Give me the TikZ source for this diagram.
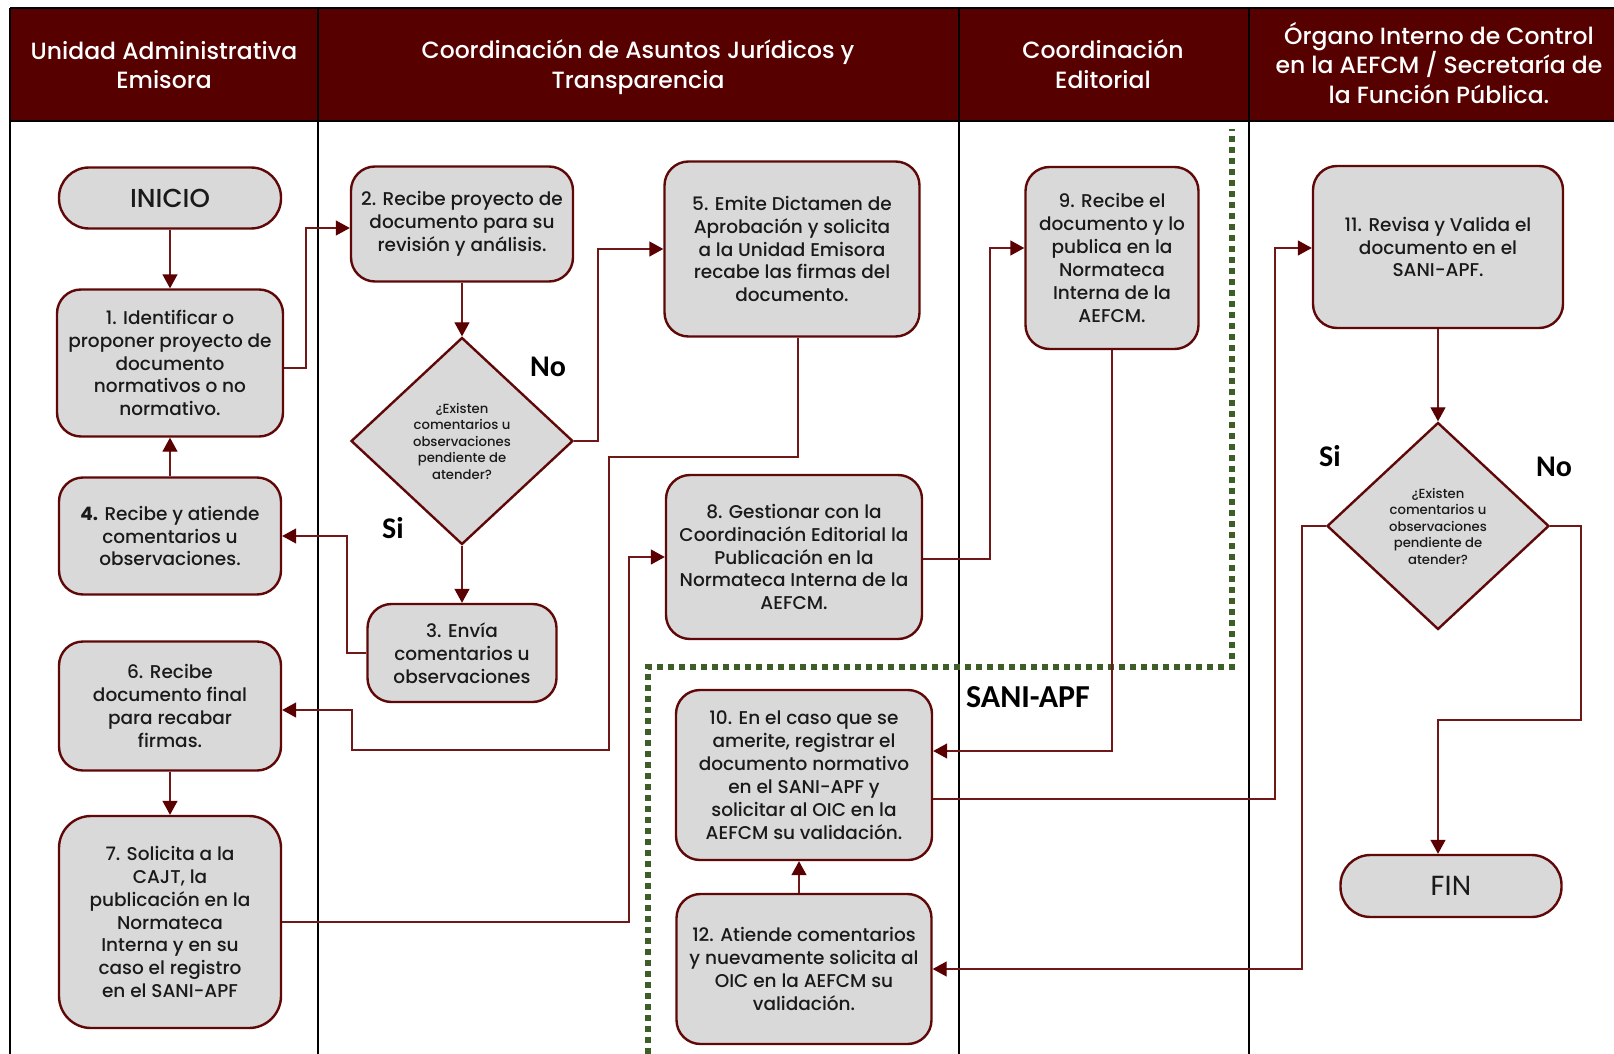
\documentclass[tikz,border=0pt]{standalone}
\usepackage{fontspec}
\IfFontExistsTF{Poppins Medium}
    {\setmainfont{Poppins Medium}[BoldFont=Poppins Bold]}
    {\setmainfont{Poppins}}
\newfontfamily\lblfont{Carlito}
\usetikzlibrary{shapes.geometric,arrows.meta}
\definecolor{headred}{RGB}{86,0,0}
\definecolor{boxline}{RGB}{96,8,8}
\definecolor{linkcol}{RGB}{112,24,24}
\definecolor{tipcol}{RGB}{90,0,0}
\definecolor{boxfill}{RGB}{217,217,217}
\definecolor{txt}{RGB}{26,26,26}
\definecolor{dotgreen}{RGB}{61,94,38}
\begin{document}
\begin{tikzpicture}
    [x=1pt, y=-1pt,
     box/.style={rectangle, rounded corners=24pt, draw=boxline, fill=boxfill, line width=2.4pt, align=center, text=txt, inner sep=0pt, font=\fontsize{18.5}{22.9}\selectfont},
     term/.style={box, rounded corners=30pt},
     decision/.style={diamond, draw=boxline, fill=boxfill, line width=2.4pt, align=center, text=txt, inner sep=0pt, minimum width=222pt, minimum height=207pt, font=\fontsize{13.2}{16.5}\selectfont},
     link/.style={draw=linkcol, line width=1.4pt, -{Triangle[length=14pt,width=15pt,color=tipcol]}},
     lbl/.style={font=\lblfont\bfseries\fontsize{30}{30}\selectfont},
     head/.style={text=white, align=center, font=\fontsize{23.5}{29.8}\selectfont},
     saniline/.style={draw=dotgreen, line width=6pt, dash pattern=on 6pt off 5pt}]
    \useasboundingbox (0,0) rectangle (1614,1054);

    % lanes
    \fill[headred] (10,8) rectangle (1614,121);
    \draw[line width=2pt] (10,8) -- (1614,8);
    \draw[line width=2pt] (10,121) -- (1614,121);
    \foreach \x in {10,318,959,1249}
        \draw[line width=2pt] (\x,8) -- (\x,1054);
    \node[head] (h1) at (164,65) {Unidad Administrativa\\Emisora};
    \node[head] (h2) at (638,67) {Coordinación de Asuntos Jurídicos y\\Transparencia};
    \node[head] (h3) at (1103,64) {Coordinación\\Editorial};
    \node[head] (h4) at (1439,63) {Órgano Interno de Control\\en la AEFCM / Secretaría de\\la Función Pública.};

    \draw[saniline] (648,1054) -- (648,667) -- (1232,667) -- (1232,129);

    \node[term, minimum width=222pt, minimum height=61pt, font=\fontsize{26}{26}\selectfont] (ini) at (170,198) {INICIO};
    \node[box, minimum width=226pt, minimum height=147pt] (b1) at (170,363) {1. Identificar o\\proponer proyecto de\\documento\\normativos o no\\normativo.};
    \node[box, minimum width=222pt, minimum height=117pt] (b4) at (170,536) {\textbf{4.} Recibe y atiende\\comentarios u\\observaciones.};
    \node[box, minimum width=222pt, minimum height=129pt] (b6) at (170,706) {6. Recibe\\documento final\\para recabar\\firmas.};
    \node[box, minimum width=222pt, minimum height=212pt, rounded corners=32pt] (b7) at (170,922) {7. Solicita a la\\CAJT, la\\publicación en la\\Normateca\\Interna y en su\\caso el registro\\en el SANI-APF};

    \node[box, minimum width=222pt, minimum height=115pt] (b2) at (462,224) {2. Recibe proyecto de\\documento para su\\revisión y análisis.};
    \node[decision] (d1) at (462,441) {¿Existen\\comentarios u\\observaciones\\pendiente de\\atender?};
    \node[box, minimum width=189pt, minimum height=98pt] (b3) at (462,653) {3. Envía\\comentarios u\\observaciones};
    \node[box, minimum width=255pt, minimum height=175pt] (b5) at (792,249) {5. Emite Dictamen de\\Aprobación y solicita\\a la Unidad Emisora\\recabe las firmas del\\documento.};
    \node[box, minimum width=256pt, minimum height=164pt] (b8) at (794,557) {8. Gestionar con la\\Coordinación Editorial la\\Publicación en la\\Normateca Interna de la\\AEFCM.};
    \node[box, minimum width=256pt, minimum height=170pt] (b10) at (804,775) {10. En el caso que se\\amerite, registrar el\\documento normativo\\en el SANI-APF y\\solicitar al OIC en la\\AEFCM su validación.};
    \node[box, minimum width=255pt, minimum height=150pt] (b12) at (804,969) {12. Atiende comentarios\\y nuevamente solicita al\\OIC en la AEFCM su\\validación.};

    \node[box, minimum width=173pt, minimum height=182pt] (b9) at (1112,258) {9. Recibe el\\documento y lo\\publica en la\\Normateca\\Interna de la\\AEFCM.};

    \node[box, minimum width=250pt, minimum height=162pt] (b11) at (1438,247) {11. Revisa y Valida el\\documento en el\\SANI-APF.};
    \node[decision] (d2) at (1438,526) {¿Existen\\comentarios u\\observaciones\\pendiente de\\atender?};
    \node[term, minimum width=221pt, minimum height=62pt, font=\lblfont\fontsize{30}{30}\selectfont] (fin) at (1451,886) {FIN};

    \node[lbl] (no1) at (548,367) {No};
    \node[lbl] (si1) at (393,528) {Si};
    \node[lbl] (si2) at (1330,456) {Si};
    \node[lbl] (no2) at (1554,467) {No};
    \node[lbl, font=\lblfont\bfseries\fontsize{32}{32}\selectfont] (sani) at (1028,697) {SANI-APF};

    \draw[link] (ini) -- (b1);
    \draw[link] (b1.east |- 0,368) -- (306,368) |- (b2.west |- 0,228);
    \draw[link] (b2) -- (d1);
    \draw[link] (d1) -- (b3);
    \draw[link] (d1.east) -- (598,441) |- (b5);
    \draw[link] (b3.west) -- (347,653) |- (b4);
    \draw[link] (b4) -- (b1);
    \draw[link] (b5.south -| 798,0) |- (609,457) |- (352,750) |- (b6.east |- 0,710);
    \draw[link] (b6) -- (b7);
    \draw[link] (b7.east) -- (629,922) |- (b8);
    \draw[link] (b8.east |- 0,559) -- (990,559) |- (b9.west |- 0,248);
    \draw[link] (b9) |- (b10.east |- 0,751);
    \draw[link] (b10.east |- 0,799) -- (1275,799) |- (b11.west |- 0,248);
    \draw[link] (b11) -- (d2);
    \draw[link] (d2.east) -- (1581,526) |- (1438,720) -- (fin.north -| 1438,0);
    \draw[link] (d2.west) -- (1302,526) |- (b12);
    \draw[link] (b12.north -| 799,0) -- (b10.south -| 799,0);

\end{tikzpicture}
\end{document}
